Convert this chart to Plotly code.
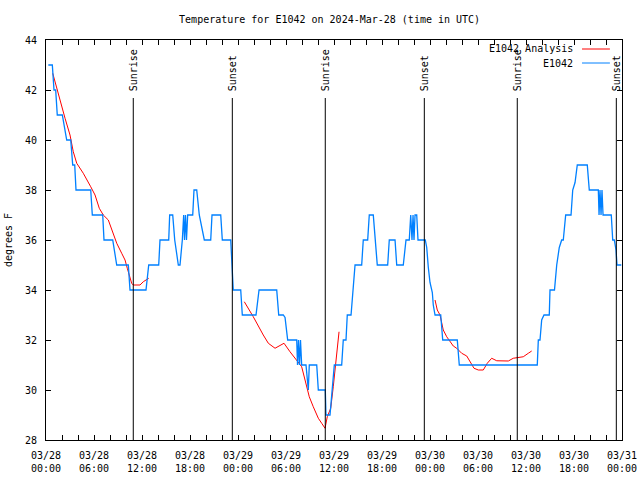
import pandas as pd
import plotly.graph_objects as go

BASE = pd.Timestamp("2024-03-28 00:00")

# E1042 observed temperature (hours since 03/28 00:00 UTC, deg F)
obs_hours = [0.29, 0.79, 1.0, 1.21, 1.41, 2.04, 2.59, 3.09, 3.34, 3.59, 3.75, 5.59, 5.79, 7.09, 7.25,
             8.34, 8.84, 10.29, 10.5, 12.5, 12.84, 14.09, 14.25, 15.34, 15.46, 15.84, 16.09, 16.54,
             16.75, 17.04, 17.21, 17.31, 17.44, 17.56, 17.71, 18.34, 18.5, 18.84, 19.16, 19.79, 20.59,
             20.75, 21.84, 22.04, 23.09, 23.29, 23.41, 24.34, 24.54, 26.25, 26.63, 28.84, 29.09, 29.66,
             29.88, 30.21, 31.34, 31.44, 31.56, 31.69, 31.81, 31.96, 32.5, 32.79, 32.91, 33.84, 34.04,
             34.91, 35.0, 35.5, 36.04, 36.96, 37.16, 37.5, 37.66, 38.13, 38.41, 38.63, 39.46, 39.66,
             40.21, 40.41, 40.91, 41.13, 41.41, 42.71, 42.91, 43.63, 43.84, 44.66, 45.0, 45.41, 45.59,
             45.75, 45.88, 46.0, 46.13, 46.34, 46.5, 47.41, 47.59, 47.79, 48.0, 48.29, 48.41, 48.63,
             49.34, 49.59, 51.41, 51.66, 61.41, 61.54, 61.75, 61.96, 62.25, 62.91, 63.0, 63.56, 63.84,
             64.16, 64.46, 64.66, 64.96, 65.63, 65.84, 66.13, 66.41, 67.66, 67.91, 69.04, 69.13, 69.25,
             69.38, 69.5, 69.63, 70.66, 70.84, 71.04, 71.25, 71.38, 71.91]
obs_temps = [43, 43, 42, 42, 41, 41, 40, 40, 39, 39, 38, 38, 37, 37, 36,
             36, 35, 35, 34, 34, 35, 35, 36, 36, 37, 37, 36, 35,
             35, 36, 37, 36, 37, 36, 37, 37, 38, 38, 37, 36, 36,
             37, 37, 36, 36, 35, 34, 34, 33, 33, 34, 34, 33, 33,
             32.9, 32, 32, 31, 32, 31, 32, 31, 31, 30, 31, 31, 30,
             30, 29, 29, 31, 31, 32, 32, 33, 33, 34, 35, 35, 36,
             36, 37, 37, 36, 35, 35, 36, 36, 35, 35, 36, 36, 37,
             36, 37, 36, 37, 37, 36, 36, 35.7, 34.9, 34.3, 33.9, 33.4, 33,
             33, 32, 32, 31, 31, 32, 32, 32.8, 33, 33, 34, 34, 35,
             35.7, 36, 36, 37, 37, 38, 38.3, 39, 39, 38, 38, 37, 38,
             37, 38, 37, 37, 36, 36, 35.6, 35, 35]

# E1042 Analysis (three separate segments)
ana1_hours = [0.84, 1.34, 1.75, 2.38, 3.0, 3.41, 3.84, 4.66, 5.59, 6.13, 6.66, 7.16, 7.79, 8.21,
              8.84, 9.46, 9.88, 10.16, 10.5, 10.71, 10.91, 11.75, 12.16, 12.84]
ana1_temps = [42.67, 42.07, 41.53, 40.87, 40.2, 39.53, 39.07, 38.67, 38.13, 37.8, 37.27, 37.0, 36.8, 36.4,
              35.87, 35.47, 35.2, 34.87, 34.47, 34.27, 34.2, 34.2, 34.33, 34.47]
ana2_hours = [24.79, 25.91, 27.16, 27.79, 28.63, 29.46, 29.75, 30.5, 31.54, 31.96, 32.38, 32.91, 33.41,
              34.04, 34.46, 34.88, 35.16, 35.59, 35.91, 36.25, 36.63]
ana2_temps = [33.53, 32.93, 32.2, 31.87, 31.67, 31.83, 31.87, 31.53, 31.13, 30.93, 30.4, 29.73, 29.33,
              28.87, 28.67, 28.47, 28.93, 29.27, 30.13, 31.27, 32.33]
ana3_hours = [48.63, 48.91, 49.25, 49.46, 49.66, 50.09, 50.5, 50.91, 51.34, 51.96, 52.59, 53.0, 53.5,
              54.04, 54.66, 55.16, 55.71, 56.34, 57.16, 57.79, 58.41, 59.04, 59.66, 60.29, 60.71]
ana3_temps = [33.6, 33.2, 33.0, 32.67, 32.4, 32.13, 31.93, 31.76, 31.67, 31.47, 31.36, 31.13, 30.87,
              30.8, 30.8, 31.07, 31.27, 31.17, 31.16, 31.16, 31.27, 31.3, 31.33, 31.47, 31.56]

# Sun events (hours since 03/28 00:00 UTC)
sun_hours = [10.91, 23.29, 34.91, 47.29, 58.91, 71.29]
sun_labels = ["Sunrise", "Sunset", "Sunrise", "Sunset", "Sunrise", "Sunset"]

FONT = "DejaVu Sans Mono"
RED = "#ff0000"
BLUE = "#0080ff"


def to_time(hours):
    return [BASE + pd.Timedelta(hours=h) for h in hours]


ana_x = to_time(ana1_hours) + [None] + to_time(ana2_hours) + [None] + to_time(ana3_hours)
ana_y = ana1_temps + [None] + ana2_temps + [None] + ana3_temps

fig = go.Figure()
fig.add_trace(go.Scatter(x=ana_x, y=ana_y, mode="lines", name="E1042 Analysis",
                         line=dict(color=RED, width=1), connectgaps=False))
fig.add_trace(go.Scatter(x=to_time(obs_hours), y=obs_temps, mode="lines", name="E1042",
                         line=dict(color=BLUE, width=1.3)))

for h, lab in zip(sun_hours, sun_labels):
    t = BASE + pd.Timedelta(hours=h)
    fig.add_shape(type="line", xref="x", yref="y domain", x0=t, x1=t, y0=0, y1=0.855,
                  line=dict(color="black", width=1))
    fig.add_annotation(x=t, xref="x", y=0.8675, yref="paper", text=lab, textangle=-90,
                       showarrow=False, xanchor="center", yanchor="bottom", xshift=1,
                       font=dict(family=FONT, size=10, color="black"))

# legend (gnuplot style: text right, sample line to the right)
for name, col, py in [("E1042 Analysis", RED, 0.9775), ("E1042", BLUE, 0.9425)]:
    fig.add_annotation(x=0.918, y=py, xref="paper", yref="paper", text=name, showarrow=False,
                       xanchor="right", yanchor="middle", font=dict(family=FONT, size=10, color="black"))
    fig.add_shape(type="line", xref="paper", yref="paper", x0=0.9306, x1=0.979, y0=py, y1=py,
                  line=dict(color=col, width=1))

fig.update_layout(
    width=640, height=480,
    margin=dict(l=46, r=18, t=40, b=40, autoexpand=False),
    paper_bgcolor="white", plot_bgcolor="white",
    showlegend=False,
    font=dict(family=FONT, size=10, color="black"),
    title=dict(text="Temperature for E1042 on 2024-Mar-28 (time in UTC)", x=0.515, xanchor="center",
               y=0.96, yanchor="middle", yref="container", automargin=False,
               font=dict(family=FONT, size=10)),
)
fig.update_xaxes(
    range=[BASE, BASE + pd.Timedelta(hours=72)],
    tickmode="linear", tick0=BASE, dtick=6 * 3600 * 1000,
    tickformat="%m/%d<br>%H:%M",
    ticks="inside", ticklen=5, tickcolor="black",
    minor=dict(ticks="inside", dtick=2 * 3600 * 1000, ticklen=5, tickcolor="black"),
    showline=True, linecolor="black", linewidth=1, mirror="ticks",
    showgrid=False, zeroline=False, automargin=False,
    ticklabelstandoff=6,
    tickfont=dict(family=FONT, size=10),
)
fig.update_yaxes(
    range=[28, 44], dtick=2, tick0=28,
    ticks="inside", ticklen=5, tickcolor="black",
    showline=True, linecolor="black", linewidth=1, mirror="ticks",
    showgrid=False, zeroline=False, automargin=False,
    ticklabelstandoff=6,
    title=dict(text="degrees F", font=dict(family=FONT, size=10), standoff=10),
    tickfont=dict(family=FONT, size=10),
)

fig.write_html("out.html", config={"displayModeBar": False},
               post_script="document.body.style.margin='0';document.body.style.overflow='hidden';")
